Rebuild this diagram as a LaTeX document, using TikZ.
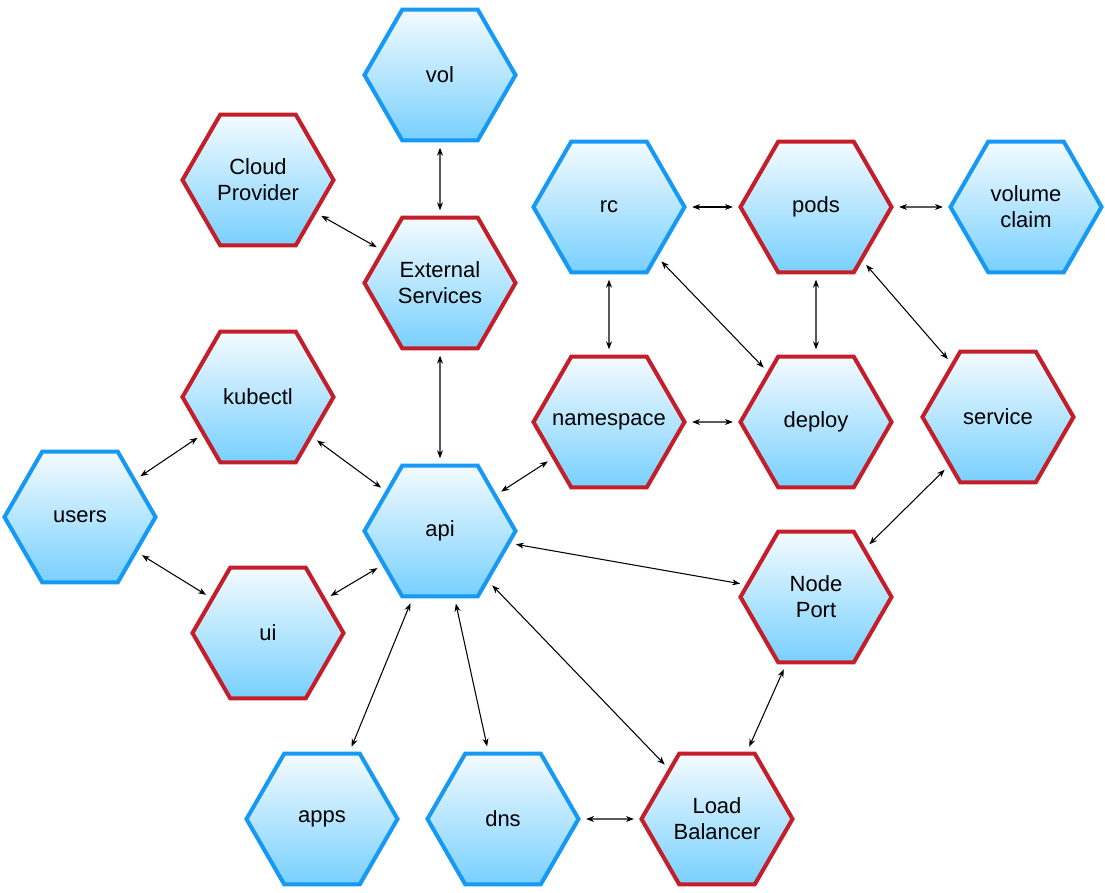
\documentclass[tikz,border=0pt]{standalone}
\usepackage{fontspec}
\setmainfont{Liberation Sans}
\usepackage{tikz}
\usetikzlibrary{arrows.meta, shapes.geometric}
\definecolor{kblue}{RGB}{22,153,245}
\definecolor{kred}{RGB}{196,30,42}
\definecolor{ktop}{RGB}{244,251,255}
\definecolor{kbot}{RGB}{120,208,255}

\begin{document}
\begin{tikzpicture}[x=0.2mm, y=-0.2mm,
      hexa/.style={regular polygon, regular polygon sides=6, minimum size=3.02cm,
                   inner sep=0pt, line width=2.3pt, top color=ktop, bottom color=kbot,
                   align=center, font=\fontsize{12.5}{14.7}\selectfont},
      bhex/.style={hexa, draw=kblue},
      rhex/.style={hexa, draw=kred},
      arr/.style={{Stealth[length=1.6mm]}-{Stealth[length=1.6mm]}, black, line width=0.6pt,
                  shorten >=3pt, shorten <=3pt},
    ]
    \useasboundingbox (0,0) rectangle (1105,893);
    % top row
    \node[bhex] (vol) at (440,75) {vol};
    \node[rhex] (cloud) at (258,180) {Cloud\\Provider};
    \node[rhex] (ext) at (440,283) {External\\Services};
    \node[bhex] (rc) at (609,207) {rc};
    \node[rhex] (pods) at (816,207) {pods};
    \node[bhex] (claim) at (1026,207) {volume\\claim};
    % middle
    \node[rhex] (kubectl) at (258,397) {kubectl};
    \node[rhex] (ns) at (609,422) {\makebox[0pt]{namespace}};
    \node[rhex] (deploy) at (816,422) {deploy};
    \node[rhex] (service) at (998,417) {service};
    \node[bhex] (users) at (80,517) {users};
    \node[bhex] (api) at (440,531) {api};
    \node[rhex] (ui) at (268,633) {ui};
    \node[rhex] (nodeport) at (816,597) {Node\\Port};
    % bottom row
    \node[bhex] (apps) at (322,819) {apps};
    \node[bhex] (dns) at (503,819) {dns};
    \node[rhex] (lb) at (717,819) {Load\\Balancer};
    % links
    \draw[arr] (vol) -- (ext);  \draw[arr] (cloud) -- (ext);
    \draw[arr] (ext) -- (api);  \draw[arr] (rc) -- (pods);
    \draw[arr] (pods) -- (claim); \draw[arr] (rc) -- (ns);
    \draw[arr] (rc) -- (deploy); \draw[arr] (pods) -- (deploy);
    \draw[arr] (pods) -- (service); \draw[arr] (ns) -- (deploy);
    \draw[arr] (ns) -- (api);   \draw[arr] (kubectl) -- (users);
    \draw[arr] (kubectl) -- (api); \draw[arr] (users) -- (ui);
    \draw[arr] (ui) -- (api);   \draw[arr] (api) -- (nodeport);
    \draw[arr] (service) -- (nodeport); \draw[arr] (api) -- (apps);
    \draw[arr] (api) -- (dns);  \draw[arr] (api) -- (lb);
    \draw[arr] (dns) -- (lb);   \draw[arr] (nodeport) -- (lb);
  \end{tikzpicture}
\end{document}
